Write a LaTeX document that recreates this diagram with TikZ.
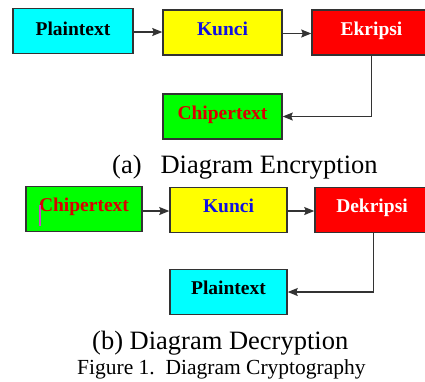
\documentclass[tikz,border=0pt]{standalone}
\usepackage{fontspec}
\setmainfont{Liberation Serif}
\usetikzlibrary{arrows.meta}
\definecolor{lineg}{HTML}{333333}
\definecolor{cyanbox}{HTML}{00FFFF}
\definecolor{yelbox}{HTML}{FFFF00}
\definecolor{redbox}{HTML}{FF0000}
\definecolor{grnbox}{HTML}{00FF00}
\definecolor{kblue}{HTML}{1010E0}
\definecolor{cursor}{HTML}{CC44CC}
\tikzset{
  box/.style={draw=lineg, line width=1.5pt, rectangle, inner sep=0pt, minimum height=45pt},
  btext/.style={anchor=base, inner sep=0pt, font=\fontsize{19.5}{20}\selectfont\bfseries},
  arr/.style={draw=lineg, line width=1.1pt, -{Stealth[length=10pt,width=8pt,inset=1.5pt]}},
  captext/.style={anchor=base west, inner sep=0pt}
}
\begin{document}
\begin{tikzpicture}[x=1pt,y=-1pt]
\clip (0,0) rectangle (425,381);
\fill[white] (0,0) rectangle (425,381);
% ---- (a) encryption
\node[box, fill=cyanbox, minimum width=120pt] (p1) at (73,31) {};
\node[box, fill=yelbox, minimum width=119pt] (k1) at (222.5,32.5) {};
\node[box, fill=redbox, minimum width=119pt] (e1) at (371.5,32.5) {};
\node[box, fill=grnbox, minimum width=119pt] (c1) at (222.5,116.5) {};
\node[btext, text=black] (p1t) at (73,35) {Plaintext};
\node[btext, text=kblue] (k1t) at (222.5,35.5) {Kunci};
\node[btext, text=white] (e1t) at (371.5,35) {Ekripsi};
\node[btext, text=redbox!85!black] (c1t) at (222.5,119) {Chipertext};
\draw[arr] ([yshift=-1pt]p1.east) -- ([yshift=-1pt]p1.east -| k1.west);
\draw[arr] ([yshift=-1pt]k1.east) -- ([yshift=-1pt]k1.east -| e1.west);
\coordinate (a1) at (e1.south |- c1.east);
\draw[arr] (e1.south) -- (a1) -- (c1.east);
\node[captext, font=\fontsize{26.5}{28}\selectfont] (capa) at (112,173) {(a)\hspace{19pt}Diagram Encryption};
% ---- (b) decryption
\node[box, fill=grnbox, minimum width=116pt] (c2) at (84,209) {};
\node[box, fill=yelbox, minimum width=117pt] (k2) at (228.5,210) {};
\node[box, fill=redbox, minimum width=117pt] (d2) at (373.5,210) {};
\node[box, fill=cyanbox, minimum width=117pt] (p2) at (228.5,292) {};
\node[btext, text=redbox!85!black] (c2t) at (84,211.5) {Chipertext};
\node[btext, text=kblue] (k2t) at (228.5,212.5) {Kunci};
\node[btext, text=white] (d2t) at (372,212) {Dekripsi};
\node[btext, text=black] (p2t) at (228.5,294.5) {Plaintext};
\draw[cursor, line width=2pt] (40,205) coordinate (cur1) -- (40,226) coordinate (cur2);
\draw[arr] ([yshift=-2pt]c2.east) -- ([yshift=-2pt]c2.east -| k2.west);
\draw[arr] ([yshift=-1pt]k2.east) -- ([yshift=-1pt]k2.east -| d2.west);
\coordinate (a2) at (d2.south |- p2.east);
\draw[arr] (d2.south) -- (a2) -- (p2.east);
\node[captext, font=\fontsize{26.5}{28}\selectfont] (capb) at (92,349) {(b) Diagram Decryption};
\node[captext, font=\fontsize{21.5}{23}\selectfont] (fig) at (77,374) {Figure 1.\ \ Diagram Cryptography};
\end{tikzpicture}
\end{document}
